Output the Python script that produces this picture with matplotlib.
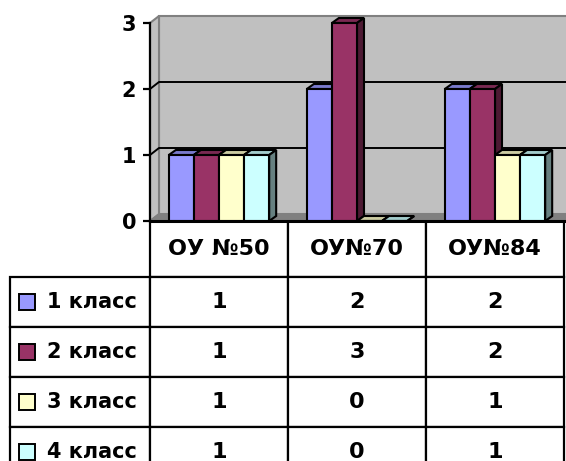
import numpy as np
import matplotlib.pyplot as plt
from matplotlib.patches import Polygon, Rectangle
from matplotlib.table import Table
from matplotlib.colors import to_rgb

plt.rcParams['font.family'] = ['DejaVu Sans']
plt.rcParams['font.weight'] = 'bold'

# data
schools = ['ОУ №50', 'ОУ№70', 'ОУ№84']
grades = ['1 класс', '2 класс', '3 класс', '4 класс']
grade1 = [1, 2, 2]
grade2 = [1, 3, 2]
grade3 = [1, 0, 1]
grade4 = [1, 0, 1]
series = [grade1, grade2, grade3, grade4]
y_ticks = [0, 1, 2, 3]

colors = ['#9999FF', '#993366', '#FFFFCC', '#CCFFFF']


def shade(c, f):
    r, g, b = to_rgb(c)
    return (r * f, g * f, b * f)


# figure is 566 x 461 px, plot area 150..564 px wide, 23..221 px from top
W, H = 566, 461
AXW, AXH = 414, 198
fig = plt.figure(figsize=(W / 100, H / 100), dpi=100)
ax = fig.add_axes([150 / W, (H - 221) / H, AXW / W, AXH / H])
ax.set_xlim(-0.5, 2.5)
ax.set_ylim(0, 3)

kx = AXW / 3.0   # px per x unit
ky = AXH / 3.0   # px per y unit

# walls / floor
wdx, wdy = 9 / kx, 7 / ky
x0, x1 = -0.5, 2.5
ax.add_patch(Rectangle((x0 + wdx, wdy), x1 - x0, 3, fc='#C0C0C0', ec='#808080',
                       lw=1.5, zorder=0, clip_on=False))
ax.add_patch(Polygon([(x0, 0), (x0 + wdx, wdy), (x0 + wdx, 3 + wdy), (x0, 3)],
                     fc='#C0C0C0', ec='#808080', lw=1.5, zorder=0.5, clip_on=False))
ax.add_patch(Polygon([(x0, 0), (x1, 0), (x1 + wdx, wdy), (x0 + wdx, wdy)],
                     fc='#808080', ec='#808080', lw=1, zorder=0.5, clip_on=False))
for v in y_ticks[1:-1]:
    ax.plot([x0, x0 + wdx, x1 + wdx], [v, v + wdy, v + wdy], color='black',
            lw=1.4, zorder=1, clip_on=False)

# 3d-ish bars
w = 1 / 5.5
bdx, bdy = 7 / kx, 5 / ky
xs = np.arange(len(schools))
for i, vals in enumerate(series):
    z = 3 + 3 * i
    bars = ax.bar(xs + (i - 1.5) * w, vals, w, color=colors[i], edgecolor='black',
                  lw=1.5, zorder=z + 2, clip_on=False)
    for b in bars:
        l, r, v = b.get_x(), b.get_x() + b.get_width(), b.get_height()
        ax.add_patch(Polygon([(l, v), (r, v), (r + bdx, v + bdy), (l + bdx, v + bdy)],
                             fc=shade(colors[i], 0.8), ec='black', lw=1.5,
                             zorder=z, clip_on=False))
        ax.add_patch(Polygon([(r, 0), (r + bdx, bdy), (r + bdx, v + bdy), (r, v)],
                             fc=shade(colors[i], 0.5), ec='black', lw=1.5,
                             zorder=z + 1, clip_on=False))

# axis
for s in ['top', 'right', 'bottom']:
    ax.spines[s].set_visible(False)
ax.spines['left'].set_linewidth(1.6)
ax.spines['left'].set_zorder(20)
ax.axhline(0, color='black', lw=2.2, zorder=25, clip_on=False)
ax.set_xticks([])
ax.set_yticks(y_ticks)
ax.tick_params(axis='y', direction='out', length=5, width=1.6, labelsize=15, pad=5)
ax.patch.set_visible(False)

# data table under the chart (sizes in px -> axes fractions)
lab_w, col_w, head_h, row_h = 140, 138, 56, 50
tot_w = lab_w + col_w * len(schools)
tot_h = head_h + row_h * len(grades)
tab = Table(ax, bbox=[-lab_w / AXW, -tot_h / AXH, tot_w / AXW, tot_h / AXH])
for j, name in enumerate(schools):
    tab.add_cell(0, j + 1, col_w / AXW, head_h / AXH, text=name, loc='center')
labels = []
for i, g in enumerate(grades):
    c = tab.add_cell(i + 1, 0, lab_w / AXW, row_h / AXH, text=g, loc='left')
    c.PAD = 37 / lab_w
    labels.append(c)
    for j in range(len(schools)):
        tab.add_cell(i + 1, j + 1, col_w / AXW, row_h / AXH,
                     text=str(series[i][j]), loc='center')
for c in tab.get_celld().values():
    c.set_linewidth(1.6)
    c.set_edgecolor('black')
tab.auto_set_font_size(False)
tab.set_fontsize(16)
for c in labels:
    c.get_text().set_fontsize(15)
ax.add_table(tab)

# legend keys inside row label cells
for i in range(len(grades)):
    yc = -(head_h + row_h * i + row_h / 2) / AXH
    ax.add_patch(Rectangle((-(150 - 19) / AXW, yc - 8 / AXH), 16 / AXW, 16 / AXH,
                           transform=ax.transAxes, fc=colors[i], ec='black',
                           lw=1.4, clip_on=False, zorder=30))

fig.savefig('out.png', dpi=100, facecolor='white')
